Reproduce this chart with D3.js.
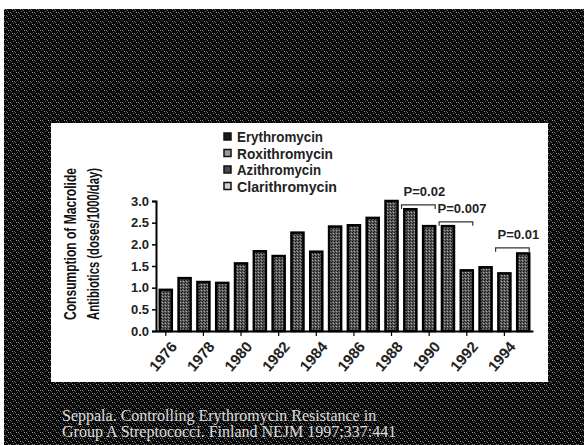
<!DOCTYPE html>
<html><head><meta charset="utf-8">
<script src="https://cdn.jsdelivr.net/npm/d3@7"></script>
<style>html,body{margin:0;padding:0;background:#fff;}svg{display:block;}</style>
</head><body>
<script>
const years = [1976,1977,1978,1979,1980,1981,1982,1983,1984,1985,1986,1987,1988,1989,1990,1991,1992,1993,1994,1995];
const totalConsumption = [0.95,1.22,1.13,1.11,1.56,1.84,1.73,2.27,1.83,2.41,2.44,2.61,3.0,2.81,2.42,2.42,1.40,1.47,1.33,1.79];
const seriesNames = ["Erythromycin","Roxithromycin","Azithromycin","Clarithromycin"];
const seriesFills = ["#1a1a1a","#9a9a9a","#4a4a4a","#d0d0d0"];
const yTicks = [0,0.5,1.0,1.5,2.0,2.5,3.0];
const xTickYears = [1976,1978,1980,1982,1984,1986,1988,1990,1992,1994];
const pLabels = ["P=0.02","P=0.007","P=0.01"];
const pFrom = [1988,1990,1993];
const pTo = [1990,1992,1995];
const pLevel = [2.91,2.52,1.92];
const yTitle = ["Consumption of Macrolide","Antibiotics (doses/1000/day)"];
const caption = ["Seppala. Controlling Erythromycin Resistance in","Group A Streptococci. Finland NEJM 1997;337:441"];

const W=584,H=445;
const FONT="Liberation Sans, Arial, sans-serif";
const svg=d3.select("body").append("svg").attr("width",W).attr("height",H);
const defs=svg.append("defs");
const pat=defs.append("pattern").attr("id","tex").attr("patternUnits","userSpaceOnUse").attr("width",8).attr("height",6);
pat.append("rect").attr("width",8).attr("height",6).attr("fill","#080808");
[[0,0,"#9a9a9a"],[2,0,"#7a7a7a"],[4,3,"#8a8a8a"],[6,3,"#666"],[1,2,"#4a4a4a"],[5,5,"#555"],[3,1,"#505050"],[7,4,"#6a6a6a"]].forEach(p=>{
  pat.append("rect").attr("x",p[0]).attr("y",p[1]).attr("width",1).attr("height",1).attr("fill",p[2]);
});
const bp=defs.append("pattern").attr("id","barTex").attr("patternUnits","userSpaceOnUse").attr("width",3).attr("height",3);
bp.append("rect").attr("width",3).attr("height",3).attr("fill","#5a5a5a");
bp.append("rect").attr("x",1).attr("y",1).attr("width",1).attr("height",1).attr("fill","#111");
bp.append("rect").attr("x",0).attr("y",2).attr("width",1).attr("height",1).attr("fill","#aaa");
bp.append("rect").attr("x",2).attr("y",0).attr("width",1).attr("height",1).attr("fill","#222");

svg.append("rect").attr("width",W).attr("height",H).attr("fill","#fff");
svg.append("rect").attr("x",4).attr("y",9).attr("width",W-4).attr("height",H-9).attr("fill","url(#tex)");
svg.append("rect").attr("x",51).attr("y",123).attr("width",497).attr("height",259).attr("fill","#fff");

const x=d3.scaleBand().domain(years).range([156,533]).paddingInner(0.36).paddingOuter(0.2);
const y=d3.scaleLinear().domain([0,3]).range([331,201]);
const bw=x.bandwidth();

// bars
svg.append("g").selectAll("rect").data(years).join("rect")
  .attr("x",d=>x(d)).attr("width",bw)
  .attr("y",(d,i)=>y(totalConsumption[i]))
  .attr("height",(d,i)=>y(0)-y(totalConsumption[i]))
  .attr("fill","url(#barTex)").attr("stroke","#000").attr("stroke-width",2.5);

// y axis
const ya=svg.append("g").attr("transform","translate(156,0)")
  .call(d3.axisLeft(y).tickValues(yTicks).tickFormat(d3.format(".1f")).tickSize(4).tickPadding(3));
ya.select(".domain").attr("stroke","#000").attr("stroke-width",2);
ya.selectAll(".tick line").attr("stroke","#000").attr("stroke-width",1.5);
ya.selectAll("text").attr("font-family",FONT).attr("font-weight","bold").attr("font-size",13).attr("fill","#222");

// x axis
const xa=svg.append("g").attr("transform","translate(0,331)")
  .call(d3.axisBottom(x).tickValues(xTickYears).tickSize(5).tickSizeOuter(0));
xa.select(".domain").attr("stroke","#000").attr("stroke-width",2);
xa.selectAll(".tick line").attr("stroke","#000").attr("stroke-width",1.2);
xa.selectAll("text").attr("font-family",FONT).attr("font-weight","bold").attr("font-size",15).attr("fill","#222")
  .attr("text-anchor","end").attr("dy",null).attr("y",0)
  .attr("transform","translate(12,16) rotate(-50)");

// y title
const yt=svg.append("g");
yTitle.forEach((t,i)=>{
  yt.append("text").attr("transform",`translate(${76+i*23},244) rotate(-90)`)
    .attr("text-anchor","middle").attr("font-family",FONT)
    .attr("font-weight","bold").attr("font-size",16).attr("fill","#111")
    .attr("textLength",152).attr("lengthAdjust","spacingAndGlyphs").text(t);
});

// legend
const lg=svg.append("g");
seriesNames.forEach((s,i)=>{
  const cy=137+i*16.5;
  lg.append("rect").attr("x",224).attr("y",cy-4).attr("width",7).attr("height",7)
    .attr("fill",seriesFills[i]).attr("stroke","#111").attr("stroke-width",1.5);
  lg.append("text").attr("x",237).attr("y",cy+5).attr("font-family",FONT)
    .attr("font-weight","bold").attr("font-size",14).attr("fill","#222")
    .attr("textLength",[86,96,84,100][i]).attr("lengthAdjust","spacingAndGlyphs").text(s);
});

// p-value brackets
const pg=svg.append("g");
pLabels.forEach((lab,i)=>{
  const x0=x(pFrom[i])+bw/2+10, x1=x(pTo[i])+bw/2+6, yy=y(pLevel[i]);
  pg.append("path").attr("d",`M${x0},${yy+4}V${yy}H${x1}V${yy+4}`).attr("fill","none").attr("stroke","#333").attr("stroke-width",1.2);
  pg.append("text").attr("x",(x0+x1)/2+6).attr("y",yy-9).attr("text-anchor","middle")
    .attr("font-family",FONT).attr("font-weight","bold").attr("font-size",13).attr("fill","#222").text(lab);
});

// caption
caption.forEach((c,i)=>{
  svg.append("text").attr("x",62).attr("y",421+i*15.5).attr("font-family","Liberation Serif, Times New Roman, serif")
    .attr("font-size",16).attr("fill","#dcdcdc").text(c);
});
</script>
</body></html>
